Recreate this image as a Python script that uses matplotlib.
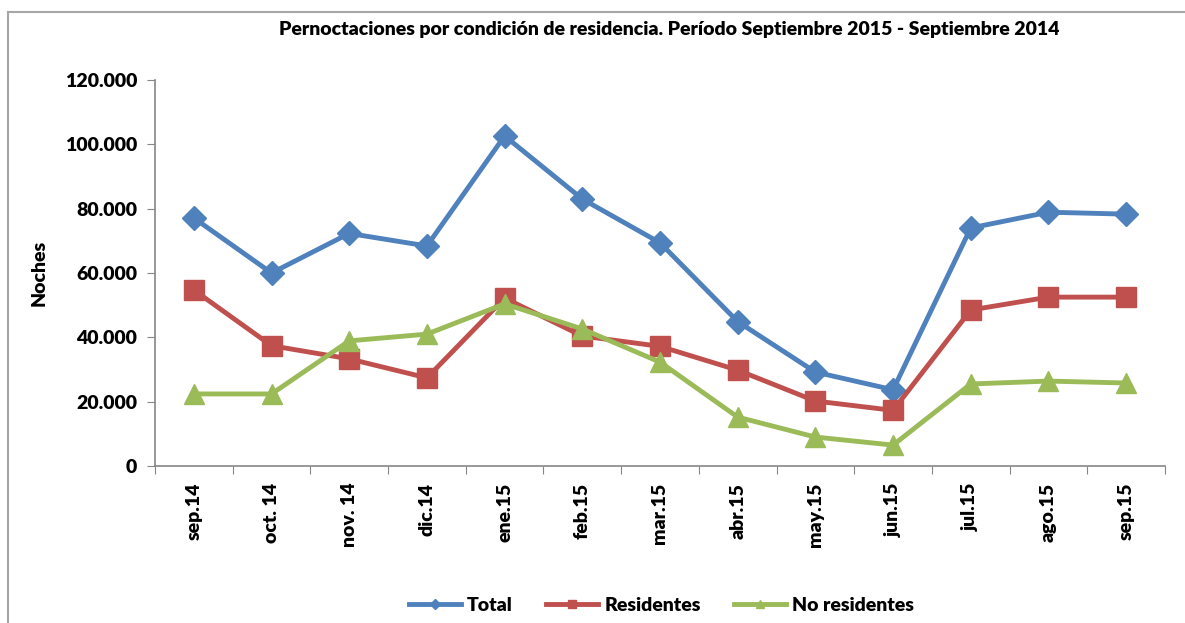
import matplotlib
matplotlib.use("Agg")
import matplotlib.pyplot as plt
from matplotlib.ticker import FuncFormatter

# data
meses = ["sep.14", "oct. 14", "nov. 14", "dic.14", "ene.15", "feb.15", "mar.15",
         "abr.15", "may.15", "jun.15", "jul.15", "ago.15", "sep.15"]
total = [77100, 60000, 72300, 68400, 102600, 83000, 69400, 44900, 29200, 23700, 74000, 78900, 78300]
residentes = [54700, 37400, 33300, 27400, 52200, 40400, 37200, 29800, 20200, 17300, 48500, 52500, 52500]
no_residentes = [22400, 22400, 38900, 41000, 50400, 42600, 32300, 15200, 9000, 6500, 25500, 26400, 25800]

plt.rcParams['font.family'] = ['Lato', 'DejaVu Sans']
plt.rcParams['font.weight'] = 'bold'

fig = plt.figure(figsize=(11.85, 6.23), dpi=100)
ax = fig.add_axes([0.1308, 0.252, 0.8523, 0.6196])

x = list(range(len(meses)))
ax.plot(x, total, color='#4F81BD', lw=3.5, marker='D', ms=12, label='Total')
ax.plot(x, residentes, color='#C0504D', lw=3.5, marker='s', ms=14, label='Residentes')
ax.plot(x, no_residentes, color='#9BBB59', lw=3.5, marker='^', ms=15, label='No residentes')

ax.set_xlim(-0.5, len(meses) - 0.5)
ax.set_ylim(0, 120000)
ax.set_yticks(range(0, 120001, 20000))
ax.yaxis.set_major_formatter(FuncFormatter(lambda v, p: f"{int(v):,}".replace(",", ".")))
ax.set_xticks([i - 0.5 for i in range(len(meses) + 1)])
ax.set_xticklabels([])
ax.set_xticks(x, minor=True)
ax.set_xticklabels(meses, minor=True, rotation=90, fontsize=14, fontweight='heavy')
ax.tick_params(axis='x', which='minor', length=0, pad=12)
ax.tick_params(axis='x', which='major', length=6, color='#868686', direction='out')
ax.tick_params(axis='y', length=6, color='#868686', labelsize=14, pad=7)
for lbl in ax.get_yticklabels():
    lbl.set_fontweight('heavy')

for s in ['top', 'right']:
    ax.spines[s].set_visible(False)
for s in ['left', 'bottom']:
    ax.spines[s].set_color('#868686')
    ax.spines[s].set_linewidth(1.2)

ax.set_ylabel("Noches", fontsize=14, fontweight='heavy', labelpad=12)
fig.text(0.565, 0.952, "Pernoctaciones por condición de residencia. Período Septiembre 2015 - Septiembre 2014",
         ha='center', va='center', fontsize=14, fontweight='heavy')

leg = fig.legend(loc='center', bbox_to_anchor=(0.558, 0.028), ncol=3, frameon=False,
                 prop={'size': 14, 'weight': 'heavy'}, markerscale=0.4, handlelength=2.7,
                 columnspacing=1.7, handletextpad=0.3)

# outer chart frame (only top and left visible in the crop)
fig.add_artist(plt.Line2D([0.0068, 1.0], [0.981, 0.981], color='#a6a6a6', lw=1.5, transform=fig.transFigure))
fig.add_artist(plt.Line2D([0.0068, 0.0068], [0.0, 0.981], color='#a6a6a6', lw=1.5, transform=fig.transFigure))

fig.savefig("out.png", dpi=100)
